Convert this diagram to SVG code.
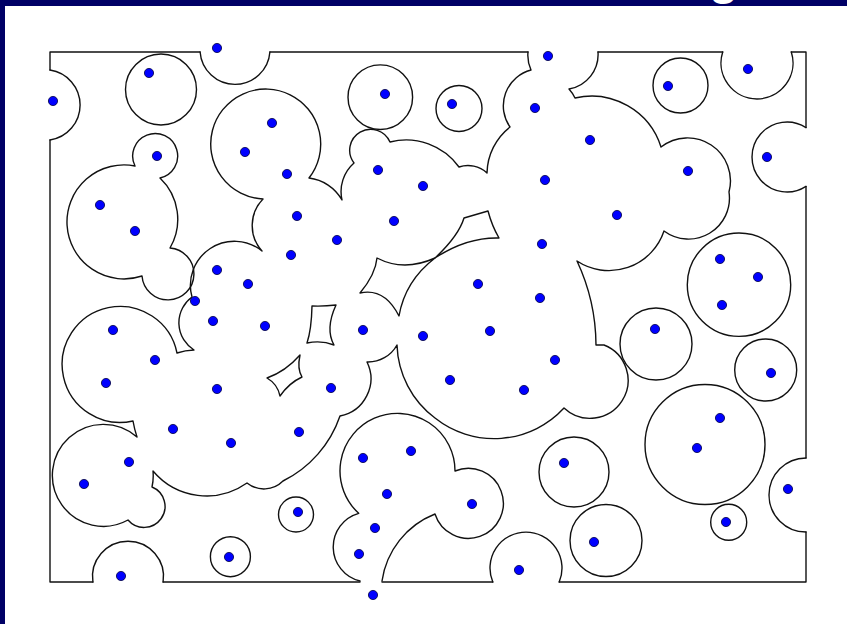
<svg xmlns="http://www.w3.org/2000/svg" width="847" height="624" viewBox="0 0 847 624">
<style>
.ln{fill:none;stroke:#111111;stroke-width:1.4;stroke-linejoin:round;stroke-linecap:round}
.dot{fill:#0000ff;stroke:#000044;stroke-width:0.8}
</style>
<rect width="847" height="624" fill="#ffffff"/>
<g id="frame">
<rect x="0" y="0" width="847" height="6" fill="#000066"/>
<rect x="0" y="0" width="5" height="624" fill="#000066"/>
<text x="709" y="-6" font-family="Liberation Sans, Arial, sans-serif" font-size="48" font-weight="bold" fill="#ffffff">g</text>
</g>
<g id="boundary" class="ln">
<path d="M50,52 H200 M270,52 H528 M598,52 H722.7 M791.3,52 H806 V127.6 M806,186.4 V458 M806,532 V582 H559.2 M492.8,582 H382 M360,582 H163.1 M92.9,582 H50 V140 M50,70 V52"/>
<path d="M50,70 A35.4 35.4 0 0 1 50,140"/>
<path d="M200.1,52 A35 35 0 0 0 269.9,52"/>
<path d="M722.7,52 A36 36 0 1 0 791.3,52"/>
<path d="M806,127.6 A35 35 0 1 0 806,186.4"/>
<path d="M806,458 A37 37 0 1 0 806,532"/>
<path d="M492.8,582 A36 36 0 1 1 559.2,582"/>
<path d="M92.9,582 A35.5 35.5 0 1 1 163.1,582"/>
<path d="M598,52 A35 35 0 0 1 569,89 A37 37 0 0 1 575,98 A73 73 0 0 1 661,147 A43 43 0 0 1 729,192 A41 41 0 0 1 664,231 A58 58 0 0 1 577,261 A200 200 0 0 1 596,345 L604,345 A38 38 0 1 1 564,408 A95 95 0 0 1 435,418 A95 95 0 0 1 397,345 A33 33 0 0 1 367,362 A38 38 0 0 1 340,416 A114 114 0 0 1 283,481 A27 27 0 0 1 247,483 A70 70 0 0 1 153,471 A51 51 0 0 1 152,487 A21 21 0 1 1 128,520 A51 51 0 1 1 137,437 A110 110 0 0 1 133,421 A58 58 0 1 1 177,353 A60 60 0 0 1 194,350 A32 32 0 0 1 192,297 A44 44 0 0 1 262,251 A38 38 0 0 1 263,199 A55 55 0 1 1 309,178 A44 44 0 0 1 342,200 A38 38 0 0 1 354,163 A21 21 0 1 1 390,142 A65 65 0 0 1 459,167 A28 28 0 0 1 487,173 A60 60 0 0 1 510,127 A37 37 0 0 1 531,70 A35 35 0 0 1 528,52"/>
<path d="M360,581 A35 35 0 0 1 358.7,513.3 A57.5 57.5 0 1 1 455,471 A35 35 0 1 1 435,514 A85 85 0 0 0 382,581"/>
<path d="M170,248 A26 26 0 1 1 142,276 A57 57 0 1 1 135,166 A22.5 22.5 0 1 1 160,178 A57 57 0 0 1 170,248 Z"/>
</g>
<g id="holes" class="ln">
<path d="M267,378 Q285.5,371.5 300,355 Q297,369 302,377 Q289,383 280,396 Q277.5,384 267,378 Z"/>
<path d="M312,306 Q324,306.5 336,305 Q325,329 334,345 Q321.5,340 307,343 Q311.5,329.5 312,306 Z"/>
<path d="M435,258 Q458.5,236 464,218 L488,211 Q492,226 499,238 Q467,237 435,258 Z"/>
<path d="M435,258 Q404,272 377,258 Q375.5,274.5 360,293 Q384.5,287.5 399,316 Q405,281 435,258 Z"/>
</g>
<g id="circles" class="ln">
<circle cx="161" cy="89.5" r="35.5"/>
<circle cx="380.3" cy="97.2" r="32.3"/>
<circle cx="459" cy="108.5" r="23"/>
<circle cx="680.5" cy="85.5" r="27.5"/>
<circle cx="739" cy="284.7" r="51.7"/>
<circle cx="656" cy="344" r="36"/>
<circle cx="765.7" cy="370" r="31"/>
<circle cx="705" cy="444.5" r="60"/>
<circle cx="574" cy="472" r="35"/>
<circle cx="606" cy="540.5" r="36"/>
<circle cx="728.7" cy="522.3" r="18"/>
<circle cx="296" cy="514.5" r="17.5"/>
<circle cx="230.4" cy="556.7" r="20"/>
</g>
<g id="dots" class="dot">
<circle cx="217" cy="48" r="4.6"/><circle cx="149" cy="73" r="4.6"/><circle cx="53" cy="101" r="4.6"/>
<circle cx="272" cy="123" r="4.6"/><circle cx="245" cy="152" r="4.6"/><circle cx="157" cy="156" r="4.6"/>
<circle cx="100" cy="205" r="4.6"/><circle cx="287" cy="174" r="4.6"/><circle cx="385" cy="94" r="4.6"/>
<circle cx="452" cy="104" r="4.6"/><circle cx="548" cy="56" r="4.6"/><circle cx="535" cy="108" r="4.6"/>
<circle cx="378" cy="170" r="4.6"/><circle cx="423" cy="186" r="4.6"/><circle cx="545" cy="180" r="4.6"/>
<circle cx="748" cy="69" r="4.6"/><circle cx="668" cy="86" r="4.6"/><circle cx="590" cy="140" r="4.6"/>
<circle cx="688" cy="171" r="4.6"/><circle cx="767" cy="157" r="4.6"/><circle cx="617" cy="215" r="4.6"/>
<circle cx="135" cy="231" r="4.6"/><circle cx="217" cy="270" r="4.6"/><circle cx="248" cy="284" r="4.6"/>
<circle cx="195" cy="301" r="4.6"/><circle cx="213" cy="321" r="4.6"/><circle cx="265" cy="326" r="4.6"/>
<circle cx="113" cy="330" r="4.6"/><circle cx="155" cy="360" r="4.6"/><circle cx="106" cy="383" r="4.6"/>
<circle cx="217" cy="389" r="4.6"/><circle cx="297" cy="216" r="4.6"/><circle cx="394" cy="221" r="4.6"/>
<circle cx="337" cy="240" r="4.6"/><circle cx="291" cy="255" r="4.6"/><circle cx="542" cy="244" r="4.6"/>
<circle cx="478" cy="284" r="4.6"/><circle cx="540" cy="298" r="4.6"/><circle cx="363" cy="330" r="4.6"/>
<circle cx="423" cy="336" r="4.6"/><circle cx="490" cy="331" r="4.6"/><circle cx="555" cy="360" r="4.6"/>
<circle cx="331" cy="388" r="4.6"/><circle cx="450" cy="380" r="4.6"/><circle cx="524" cy="390" r="4.6"/>
<circle cx="720" cy="259" r="4.6"/><circle cx="758" cy="277" r="4.6"/><circle cx="722" cy="305" r="4.6"/>
<circle cx="655" cy="329" r="4.6"/><circle cx="771" cy="373" r="4.6"/><circle cx="720" cy="418" r="4.6"/>
<circle cx="697" cy="448" r="4.6"/><circle cx="173" cy="429" r="4.6"/><circle cx="231" cy="443" r="4.6"/>
<circle cx="129" cy="462" r="4.6"/><circle cx="84" cy="484" r="4.6"/><circle cx="229" cy="557" r="4.6"/>
<circle cx="121" cy="576" r="4.6"/><circle cx="299" cy="432" r="4.6"/><circle cx="363" cy="458" r="4.6"/>
<circle cx="411" cy="451" r="4.6"/><circle cx="387" cy="494" r="4.6"/><circle cx="472" cy="504" r="4.6"/>
<circle cx="298" cy="512" r="4.6"/><circle cx="375" cy="528" r="4.6"/><circle cx="359" cy="554" r="4.6"/>
<circle cx="519" cy="570" r="4.6"/><circle cx="373" cy="595" r="4.6"/><circle cx="564" cy="463" r="4.6"/>
<circle cx="788" cy="489" r="4.6"/><circle cx="726" cy="522" r="4.6"/><circle cx="594" cy="542" r="4.6"/>
</g>
</svg>
